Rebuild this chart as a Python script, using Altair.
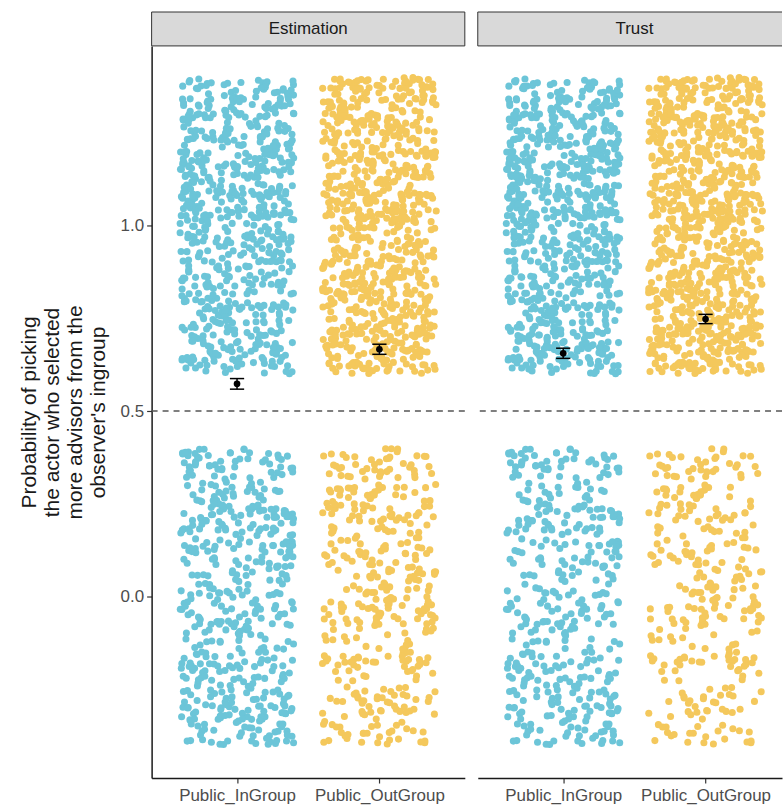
import altair as alt
import pandas as pd

# Panels, conditions and colours
tasks = ["Estimation", "Trust"]
groups = ["Public_InGroup", "Public_OutGroup"]
group_colors = ["#6cc5d8", "#f4c85c"]

# Responses per condition: picked the ingroup-favouring actor (1) / did not (0)
picked_estimation = [688, 800]
not_picked_estimation = [512, 400]
picked_trust = [787, 898]
not_picked_trust = [413, 302]

y_title = ["Probability of picking", "the actor who selected",
           "more advisors from the", "observer's ingroup"]
y_ticks = [0.0, 0.5, 1.0]

FONT = "Liberation Sans"
UNIT = 314 / 2.2          # pixels per category step
Y_DOMAIN = [-0.49, 1.485]
HEIGHT = 734
STRIP_H = 34

rows = []
for task, picked, not_picked in [("Estimation", picked_estimation, not_picked_estimation),
                                 ("Trust", picked_trust, not_picked_trust)]:
    i = 0
    for gi, g in enumerate(groups):
        for resp, n in ((1, picked[gi]), (0, not_picked[gi])):
            for _ in range(n):
                rows.append({"task": task, "group": g, "pos": gi + 1, "resp": resp, "i": i})
                i += 1
df = pd.DataFrame(rows)

label_expr = " : ".join(
    f"datum.value == {k + 1} ? '{g}'" for k, g in enumerate(groups)
) + " : ''"

color_scale = alt.Scale(domain=groups, range=group_colors)


def panel(task, width, first):
    xmax = 0.4 + width / UNIT
    x_scale = alt.Scale(domain=[0.4, xmax], nice=False, zero=False)
    y_scale = alt.Scale(domain=Y_DOMAIN, nice=False, zero=False)
    x_axis = alt.Axis(values=[1, 2], labelExpr=label_expr, title=None, grid=False,
                      tickSize=5, tickColor="#333333", tickWidth=1.2,
                      domainColor="#1a1a1a", domainWidth=1.5,
                      labelFont=FONT, labelFontSize=17, labelColor="#4d4d4d",
                      labelPadding=5, labelFlush=False, labelOverlap=False)
    if first:
        y_axis = alt.Axis(values=y_ticks, format=".1f", title=y_title, grid=False,
                          tickSize=5, tickColor="#333333", tickWidth=1.2,
                          domainColor="#1a1a1a", domainWidth=1.5,
                          labelFont=FONT, labelFontSize=17, labelColor="#4d4d4d",
                          labelPadding=3, titleFont=FONT, titleFontSize=21,
                          titleLineHeight=23, titleFontWeight="normal",
                          titleColor="#1a1a1a", titlePadding=12)
    else:
        y_axis = None

    base = alt.Chart(df).transform_filter(alt.datum.task == task)

    # horizontal and vertical jitter derived from the row number
    points = base.transform_calculate(
        h1="sin(datum.i * 12.9898 + 1.7) * 43758.5453",
        h2="sin(datum.i * 78.233 + 4.1) * 24634.6345",
    ).transform_calculate(
        px="datum.pos + (datum.h1 - floor(datum.h1) - 0.5) * 0.8",
        py="datum.resp + (datum.h2 - floor(datum.h2) - 0.5) * 0.8",
    ).mark_circle(size=50, opacity=1).encode(
        x=alt.X("px:Q", scale=x_scale, axis=x_axis),
        y=alt.Y("py:Q", scale=y_scale, axis=y_axis),
        color=alt.Color("group:N", scale=color_scale, legend=None),
    )

    # mean ± standard error of the 0/1 responses
    stats = base.transform_aggregate(
        mean="mean(resp)", sd="stdev(resp)", n="count()", groupby=["group", "pos"]
    ).transform_calculate(
        lo="datum.mean - datum.sd / sqrt(datum.n)",
        hi="datum.mean + datum.sd / sqrt(datum.n)",
        xl="datum.pos - 0.05",
        xr="datum.pos + 0.05",
    )
    bar = stats.mark_rule(color="black", strokeWidth=1.5).encode(
        x=alt.X("pos:Q", scale=x_scale), y=alt.Y("lo:Q", scale=y_scale), y2="hi:Q")
    cap_lo = stats.mark_rule(color="black", strokeWidth=1.5).encode(
        x=alt.X("xl:Q", scale=x_scale), x2="xr:Q", y=alt.Y("lo:Q", scale=y_scale))
    cap_hi = stats.mark_rule(color="black", strokeWidth=1.5).encode(
        x=alt.X("xl:Q", scale=x_scale), x2="xr:Q", y=alt.Y("hi:Q", scale=y_scale))
    mean_pt = stats.mark_circle(color="black", size=45, opacity=1).encode(
        x=alt.X("pos:Q", scale=x_scale), y=alt.Y("mean:Q", scale=y_scale))

    chance = alt.Chart(pd.DataFrame({"v": [0.5]})).mark_rule(
        color="#555555", strokeWidth=1.4, strokeDash=[6, 5]
    ).encode(y=alt.Y("v:Q", scale=y_scale))

    # grey strip header above the panel
    one = alt.Chart(pd.DataFrame({"task": [task]}))
    strip_fill = one.mark_rect(fill="#d9d9d9", strokeWidth=0).encode(
        x=alt.value(0), x2=alt.value(width), y=alt.value(-STRIP_H), y2=alt.value(0))
    border = "#333333"
    edges = [
        one.mark_rule(color=border, strokeWidth=1).encode(
            x=alt.value(0), x2=alt.value(width), y=alt.value(-STRIP_H)),
        one.mark_rule(color=border, strokeWidth=1).encode(
            x=alt.value(0), x2=alt.value(width), y=alt.value(0)),
        one.mark_rule(color=border, strokeWidth=1).encode(
            x=alt.value(0), y=alt.value(-STRIP_H), y2=alt.value(0)),
    ]
    if first:
        edges.append(one.mark_rule(color=border, strokeWidth=1).encode(
            x=alt.value(width), y=alt.value(-STRIP_H), y2=alt.value(0)))
    strip_text = one.mark_text(font=FONT, fontSize=17, color="#1a1a1a").encode(
        x=alt.value(314 / 2), y=alt.value(-STRIP_H / 2), text="task:N")

    return alt.layer(
        points, chance, bar, cap_lo, cap_hi, mean_pt, strip_fill, *edges, strip_text
    ).properties(width=width, height=HEIGHT)


chart = alt.hconcat(
    panel(tasks[0], 314, True),
    panel(tasks[1], 305, False),
    spacing=11,
).properties(
    padding={"left": 18, "top": 10, "right": 0, "bottom": 4}
).configure(font=FONT).configure_view(stroke=None)

chart.save("out.html", embed_options={"renderer": "svg", "actions": False})
